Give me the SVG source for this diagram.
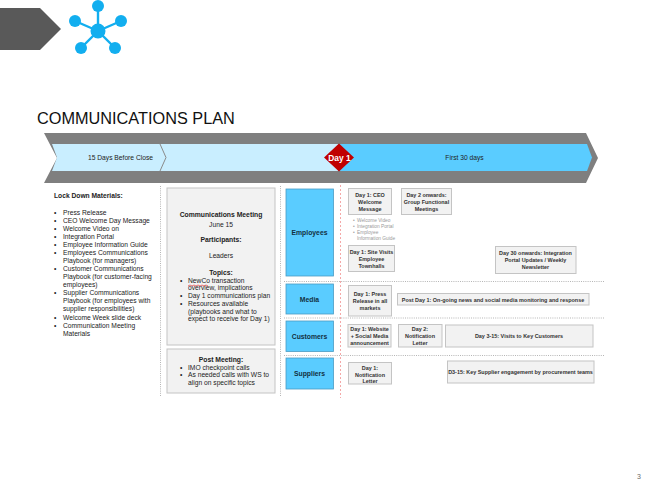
<svg xmlns="http://www.w3.org/2000/svg" width="650" height="486" viewBox="0 0 650 486">
<style>
text{font-family:"Liberation Sans",Arial,sans-serif;fill:#222}
.c{text-anchor:middle}
.t{font-size:6.7px}
.b{font-size:5.45px;font-weight:bold;text-anchor:middle;fill:#333}
.bh{font-size:6.8px;font-weight:bold;text-anchor:middle}
.box{fill:#f2f2f2;stroke:#c4c4c4;stroke-width:1}
.cat{fill:#5accff;stroke:#4a9cc4;stroke-width:.8}
.catt{font-size:6.8px;font-weight:bold;text-anchor:middle;fill:#12303f}
.dot{fill:none;stroke:#b5b5b5;stroke-width:1;stroke-dasharray:1 1.2}
.red{fill:none;stroke:#f4a8a8;stroke-width:1;stroke-dasharray:2 2}
.sub{font-size:4.8px;fill:#9a9a9a}
.spoke{stroke:#12aeef;stroke-width:2.4}
.hub{fill:#12aeef}
</style>
<g id="header-tab"><polygon points="0,8 40,8 61,29 40,50 0,50" fill="#595959"/></g>
<g id="network-icon">
<line class="spoke" x1="98" y1="31" x2="98" y2="6"/><line class="spoke" x1="98" y1="31" x2="75" y2="21"/><line class="spoke" x1="98" y1="31" x2="121" y2="21"/><line class="spoke" x1="98" y1="31" x2="81" y2="48"/><line class="spoke" x1="98" y1="31" x2="115" y2="48"/>
<circle class="hub" cx="98" cy="31" r="7.5"/><circle class="hub" cx="98" cy="6" r="6"/><circle class="hub" cx="75" cy="21" r="6"/><circle class="hub" cx="121" cy="21" r="6"/><circle class="hub" cx="81" cy="48" r="6"/><circle class="hub" cx="115" cy="48" r="6"/>
</g>
<text x="37" y="124" font-size="16.300" style="fill:#111">COMMUNICATIONS PLAN</text>
<g id="timeline">
<polygon points="44,133 586,133 598,158 586,183 44,183 57,158" fill="#7f7f7f"/>
<polygon points="52,144 338,144 338,171 52,171 57,157.500" fill="#c9eeff"/>
<polygon points="338,144 587,144 592,157.500 587,171 338,171" fill="#5accff"/>
<polyline points="160,144 166,157.500 160,171" fill="none" stroke="#8a8a8a" stroke-width="1"/>
<text x="120.500" y="159.500" font-size="6.700" class="c">15 Days Before Close</text>
<text x="464.500" y="159.500" font-size="6.700" class="c">First 30 days</text>
</g>
<g id="day1"><polygon points="339,143.500 354,157.500 339,171.500 324,157.500" fill="#c00000"/><text x="339.500" y="160.500" font-size="8.400" font-weight="bold" class="c" style="fill:#fff">Day 1</text></g>
<g id="connectors">
<line class="dot" x1="160.500" y1="186" x2="160.500" y2="396"/>
<line class="dot" x1="280.500" y1="186" x2="280.500" y2="396"/>
<line class="red" x1="340.500" y1="185" x2="340.500" y2="398"/>
<line class="dot" x1="284" y1="281.500" x2="605" y2="281.500"/>
<line class="dot" x1="284" y1="318" x2="605" y2="318"/>
<line class="dot" x1="284" y1="355.500" x2="605" y2="355.500"/>
</g>
<g id="lock-down" class="t">
<text x="54" y="198" font-weight="bold">Lock Down Materials:</text>
<g>
<text x="54" y="215">•</text><text x="63" y="215">Press Release</text>
<text x="54" y="223">•</text><text x="63" y="223">CEO Welcome Day Message</text>
<text x="54" y="230.500">•</text><text x="63" y="230.500">Welcome Video on</text>
<text x="63" y="239">Integration Portal</text><text x="54" y="239">•</text>
<text x="54" y="246.500">•</text><text x="63" y="246.500">Employee Information Guide</text>
<text x="54" y="255">•</text><text x="63" y="255">Employees Communications</text>
<text x="63" y="263">Playbook (for managers)</text>
<text x="54" y="271">•</text><text x="63" y="271">Customer Communications</text>
<text x="63" y="279">Playbook (for customer-facing</text>
<text x="63" y="287">employees)</text>
<text x="54" y="295">•</text><text x="63" y="295">Supplier Communications</text>
<text x="63" y="303">Playbook (for employees with</text>
<text x="63" y="311">supplier responsibilities)</text>
<text x="54" y="319.500">•</text><text x="63" y="319.500">Welcome Week slide deck</text>
<text x="54" y="327.500">•</text><text x="63" y="327.500">Communication Meeting</text>
<text x="63" y="336">Materials</text>
</g>
</g>
<g id="comm-meeting">
<rect class="box" x="167" y="188" width="108" height="157"/>
<text class="bh" x="221" y="217">Communications Meeting</text>
<text class="t c" x="221" y="226.500">June 15</text>
<text class="bh" x="221" y="242">Participants:</text>
<text class="t c" x="221" y="258">Leaders</text>
<text class="bh" x="221" y="275">Topics:</text>
<g class="t">
<text x="180" y="283">•</text><text x="188" y="283">NewCo transaction</text>
<text x="188" y="290">overview, implications</text>
<text x="180" y="298">•</text><text x="188" y="298">Day 1 communications plan</text>
<text x="180" y="306">•</text><text x="188" y="306">Resources available</text>
<text x="188" y="313.500">(playbooks and what to</text>
<text x="188" y="321">expect to receive for Day 1)</text>
</g>
<path d="M188,286 l2,-1 2,1 2,-1 2,1 2,-1 2,1 2,-1 2,1 2,-1 2,1" fill="none" stroke="#e23a3a" stroke-width=".7"/>
</g>
<g id="post-meeting">
<rect class="box" x="167" y="349" width="108" height="44"/>
<text class="bh" x="221" y="362">Post Meeting:</text>
<g class="t">
<text x="180" y="370">•</text><text x="188" y="370">IMO checkpoint calls</text>
<text x="180" y="377">•</text><text x="188" y="377">As needed calls with WS to</text>
<text x="188" y="384.500">align on specific topics</text>
</g>
</g>
<g id="employees"><rect class="cat" x="286" y="189" width="47.500" height="87"/><text class="catt" x="309.500" y="234.500">Employees</text></g>
<g id="media"><rect class="cat" x="286" y="284" width="47.500" height="30"/><text class="catt" x="309.500" y="301.500">Media</text></g>
<g id="customers"><rect class="cat" x="286" y="321" width="47.500" height="30.500"/><text class="catt" x="309.500" y="338.500">Customers</text></g>
<g id="suppliers"><rect class="cat" x="286" y="358" width="47.500" height="31"/><text class="catt" x="309.500" y="376">Suppliers</text></g>
<g id="ceo"><rect class="box" x="348.500" y="188.500" width="43" height="26"/><text class="b" x="370" y="197">Day 1: CEO</text><text class="b" x="370" y="204">Welcome</text><text class="b" x="370" y="211">Message</text></g>
<g id="ceo-notes">
<text class="sub" x="353" y="222">•</text><text class="sub" x="357" y="222">Welcome Video</text>
<text class="sub" x="353" y="227.500">•</text><text class="sub" x="357" y="227.500">Integration Portal</text>
<text class="sub" x="353" y="234">•</text><text class="sub" x="357" y="234">Employee</text>
<text class="sub" x="357" y="240">Information Guide</text>
</g>
<g id="group-functional"><rect class="box" x="401.500" y="188.500" width="50" height="26"/><text class="b" x="426.500" y="197">Day 2 onwards:</text><text class="b" x="426.500" y="204">Group Functional</text><text class="b" x="426.500" y="211">Meetings</text></g>
<g id="site-visits"><rect class="box" x="348.500" y="245.500" width="46" height="26"/><text class="b" x="371.500" y="254">Day 1: Site Visits</text><text class="b" x="371.500" y="261">Employee</text><text class="b" x="371.500" y="268">Townhalls</text></g>
<g id="day30"><rect class="box" x="495.500" y="246.500" width="80.500" height="27"/><text class="b" x="535.500" y="255">Day 30 onwards: Integration</text><text class="b" x="535.500" y="262">Portal Updates / Weekly</text><text class="b" x="535.500" y="269">Newsletter</text></g>
<g id="press"><rect class="box" x="348.500" y="285.500" width="43" height="30.500"/><text class="b" x="370" y="296">Day 1: Press</text><text class="b" x="370" y="303">Release in all</text><text class="b" x="370" y="310">markets</text></g>
<g id="post-day1"><rect class="box" x="397.500" y="293.500" width="191.500" height="11.500"/><text class="b" x="493" y="301.500">Post Day 1: On-going news and social media monitoring and response</text></g>
<g id="website"><rect class="box" x="348" y="324.500" width="43" height="22.500"/><text class="b" x="369.500" y="330.500">Day 1: Website</text><text class="b" x="369.500" y="337.500">+ Social Media</text><text class="b" x="369.500" y="344.500">announcement</text></g>
<g id="cust-notification"><rect class="box" x="398.500" y="324.500" width="43.500" height="22.500"/><text class="b" x="420" y="330.500">Day 2:</text><text class="b" x="420" y="337.500">Notification</text><text class="b" x="420" y="344.500">Letter</text></g>
<g id="visits"><rect class="box" x="445.500" y="325" width="147.500" height="22"/><text class="b" x="519" y="337.500">Day 3-15: Visits to Key Customers</text></g>
<g id="sup-notification"><rect class="box" x="348.500" y="362.500" width="43" height="21.500"/><text class="b" x="370" y="369.500">Day 1:</text><text class="b" x="370" y="376.500">Notification</text><text class="b" x="370" y="383">Letter</text></g>
<g id="sup-engagement"><rect class="box" x="447.500" y="361" width="146.500" height="22"/><text class="b" x="520.500" y="374">D3-15: Key Supplier engagement by procurement teams</text></g>
<text x="637" y="479" font-size="7" style="fill:#6a6a6a">3</text>
</svg>
